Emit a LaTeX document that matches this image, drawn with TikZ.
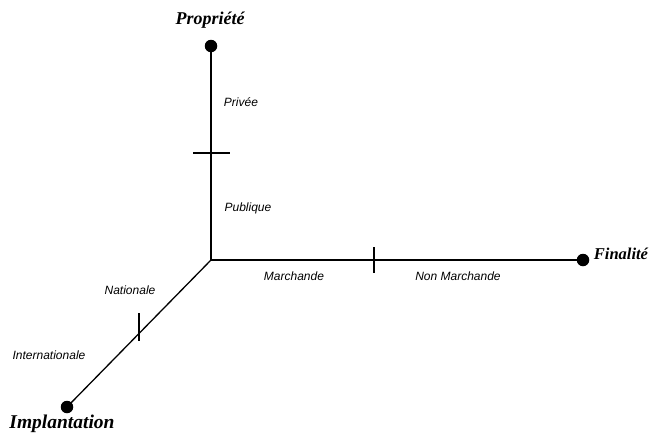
\documentclass[tikz,border=0pt]{standalone}
\usepackage{fontspec}
\setmainfont{Liberation Serif}
\newfontfamily\labfont{Liberation Sans}
\begin{document}
\begin{tikzpicture}[x=1pt,y=-1pt,
  axis/.style={line width=1.3pt,black},
  tick/.style={line width=1.1pt,black},
  dot/.style={circle,fill=black,inner sep=0pt,minimum size=12.5pt},
  title/.style={font=\bfseries\itshape,inner sep=0pt},
  lab/.style={font=\labfont\itshape\fontsize{12}{14}\selectfont,inner sep=0pt}]
\useasboundingbox (0,0) rectangle (659,432);
\coordinate (O) at (211,260);
\node[dot] (P) at (211,46) {};
\node[dot] (F) at (583,260) {};
\node[dot] (I) at (67,407) {};
\draw[axis] (O) -- (P.center);
\draw[axis] (O) -- (F.center);
\draw[axis] (O) -- (I.center);
% ticks
\coordinate (tv1) at (193,153); \coordinate (tv2) at (230,153);
\coordinate (th1) at (374,247); \coordinate (th2) at (374,273);
\coordinate (td1) at (139,313); \coordinate (td2) at (139,341);
\draw[tick] (tv1) -- (tv2);
\draw[tick] (th1) -- (th2);
\draw[tick] (td1) -- (td2);
% titles
\node[title,font=\fontsize{18}{20}\selectfont\bfseries\itshape] (tP) at (210,20) {Propriété};
\node[title,font=\fontsize{16.5}{20}\selectfont\bfseries\itshape] (tF) at (621,254) {Finalité};
\node[title,font=\fontsize{19.5}{22}\selectfont\bfseries\itshape] (tI) at (62,424) {Implantation};
% labels
\node[lab] (l1) at (241,102) {Privée};
\node[lab] (l2) at (248,208) {Publique};
\node[lab] (l3) at (294,276) {Marchande};
\node[lab] (l4) at (458,276) {Non Marchande};
\node[lab] (l5) at (130,290) {Nationale};
\node[lab] (l6) at (49,355) {Internationale};
\end{tikzpicture}
\end{document}
